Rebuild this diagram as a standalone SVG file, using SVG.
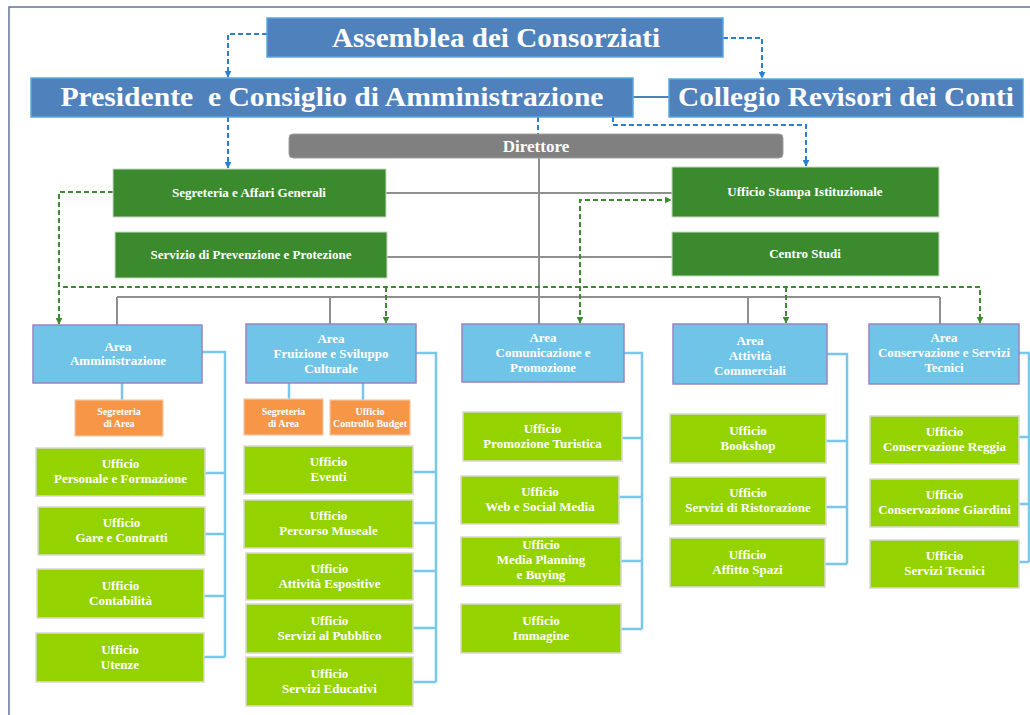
<svg xmlns="http://www.w3.org/2000/svg" width="1030" height="715" viewBox="0 0 1030 715">
<defs>
<style>
text{font-family:"Liberation Serif","Times New Roman",serif;font-weight:bold;fill:#fff;text-anchor:middle}
.title{font-size:28px}
.tbox{fill:#4f81bd;stroke:#58a6e0;stroke-width:1.5}
.dir{fill:#808080;stroke:#a0a0a0;stroke-width:1}
.dg{fill:#3b8a2e;stroke:#c9d9c5;stroke-width:1}
.dgt{font-size:13px}
.area{fill:#70c4e8;stroke:#9c83c2;stroke-width:1.5}
.at{font-size:13px}
.or{fill:#f79646;stroke:#f2c8a8;stroke-width:1.2}
.ot{font-size:10px}
.uf{fill:#94d300;stroke:#ddd6d6;stroke-width:1.5}
.ut{font-size:13px}
.grey{fill:none;stroke:#8f8f8f;stroke-width:2}
.br{fill:none;stroke:#78c8ec;stroke-width:2.5}
.bd{fill:none;stroke:#2a7fd4;stroke-width:2;stroke-dasharray:5 3}
.gd{fill:none;stroke:#3d8b2f;stroke-width:2;stroke-dasharray:5 3}
</style>
<marker id="ab" viewBox="0 0 10 10" refX="9" refY="5" markerWidth="7" markerHeight="7" markerUnits="userSpaceOnUse" orient="auto-start-reverse"><path d="M0,0 L10,5 L0,10 z" fill="#2a7fd4"/></marker>
<marker id="ag" viewBox="0 0 10 10" refX="9" refY="5" markerWidth="7" markerHeight="7" markerUnits="userSpaceOnUse" orient="auto-start-reverse"><path d="M0,0 L10,5 L0,10 z" fill="#3d8b2f"/></marker>
</defs>
<rect width="1030" height="715" fill="#fff"/>
<path d="M9,715 V7 H1030" fill="none" stroke="#64729a" stroke-width="1.5"/>

<g id="connectors">
<path class="grey" d="M539,158 V324 M117,297 H940 M117,297 V325 M330,297 V324 M748,297 V324 M940,297 V324 M386,193 H672 M387,257 H672"/>
<path class="br" d="M202,352 H225 V657 M205,473 H225 M205,534 H225 M204,596 H225 M204,657 H225"/>
<path class="br" d="M122,383 V400 M289,383 V399 M363,383 V400"/>
<path class="br" d="M416,353 H436 V682 M413,472 H436 M413,523 H436 M413,571 H436 M413,628 H436 M413,682 H436"/>
<path class="br" d="M624,353 H642 V629 M622,438 H642 M619,497 H642 M621,561 H642 M621,629 H642"/>
<path class="br" d="M827,354 H847 V564 M826,441 H847 M826,507 H847 M825,564 H847"/>
<path class="br" d="M1019,353 H1029 V562 M1019,437 H1029 M1019,504 H1029 M1019,562 H1029"/>
<path d="M633,97 H669" stroke="#4f81bd" stroke-width="2" fill="none"/>
<path class="bd" d="M267,34 H228 V77" marker-end="url(#ab)"/>
<path class="bd" d="M723,38 H762 V78" marker-end="url(#ab)"/>
<path class="bd" d="M228,117 V168" marker-end="url(#ab)"/>
<path class="bd" d="M538,117 V134"/>
<path class="bd" d="M613,117 V125 H806 V166" marker-end="url(#ab)"/>
<path class="gd" d="M113,192 H59 V324" marker-end="url(#ag)"/>
<path class="gd" d="M63,287 H980 V323" marker-end="url(#ag)"/>
<path class="gd" d="M386,287 V323" marker-end="url(#ag)"/>
<path class="gd" d="M786,287 V323" marker-end="url(#ag)"/>
<path class="gd" d="M580,323 V200 H671" marker-start="url(#ag)" marker-end="url(#ag)"/>
</g>

<g id="assemblea"><rect class="tbox" x="267" y="18" width="456" height="39"/><text class="title" x="496" y="47" textLength="328" lengthAdjust="spacingAndGlyphs">Assemblea dei Consorziati</text></g>
<g id="presidente"><rect class="tbox" x="31" y="78" width="602" height="39"/><text class="title" x="332" y="106" xml:space="preserve" textLength="543" lengthAdjust="spacingAndGlyphs">Presidente  e Consiglio di Amministrazione</text></g>
<g id="collegio"><rect class="tbox" x="669" y="79" width="354" height="38"/><text class="title" x="846" y="106" textLength="336" lengthAdjust="spacingAndGlyphs">Collegio Revisori dei Conti</text></g>
<g id="direttore"><rect class="dir" x="289" y="134" width="494" height="24" rx="4"/><text x="536" y="152" font-size="17">Direttore</text></g>

<g id="segreteria-ag"><rect class="dg" x="113" y="169" width="273" height="48"/><text class="dgt" x="249" y="197">Segreteria e Affari Generali</text></g>
<g id="servizio-pp"><rect class="dg" x="115" y="232" width="272" height="46"/><text class="dgt" x="251" y="259">Servizio di Prevenzione e Protezione</text></g>
<g id="ufficio-stampa"><rect class="dg" x="672" y="167" width="267" height="50"/><text class="dgt" x="805" y="196">Ufficio Stampa Istituzionale</text></g>
<g id="centro-studi"><rect class="dg" x="672" y="232" width="267" height="44"/><text class="dgt" x="805" y="258">Centro Studi</text></g>

<g id="area-amministrazione"><rect class="area" x="33" y="325" width="169" height="58"/><text class="at" x="118" y="351">Area</text><text class="at" x="118" y="365">Amministrazione</text></g>
<g id="area-fruizione"><rect class="area" x="246" y="324" width="170" height="59"/><text class="at" x="331" y="343">Area</text><text class="at" x="331" y="358">Fruizione e Sviluppo</text><text class="at" x="331" y="373">Culturale</text></g>
<g id="area-comunicazione"><rect class="area" x="462" y="324" width="162" height="58"/><text class="at" x="543" y="342">Area</text><text class="at" x="543" y="357">Comunicazione e</text><text class="at" x="543" y="372">Promozione</text></g>
<g id="area-attivita"><rect class="area" x="673" y="324" width="154" height="60"/><text class="at" x="750" y="345">Area</text><text class="at" x="750" y="360">Attività</text><text class="at" x="750" y="375">Commerciali</text></g>
<g id="area-conservazione"><rect class="area" x="869" y="324" width="150" height="60"/><text class="at" x="944" y="342">Area</text><text class="at" x="944" y="357">Conservazione e Servizi</text><text class="at" x="944" y="372">Tecnici</text></g>

<g id="segreteria-area-1"><rect class="or" x="75" y="400" width="88" height="36"/><text class="ot" x="119" y="415">Segreteria</text><text class="ot" x="119" y="427">di Area</text></g>
<g id="segreteria-area-2"><rect class="or" x="244" y="399" width="79" height="36"/><text class="ot" x="283.5" y="415">Segreteria</text><text class="ot" x="283.5" y="427">di Area</text></g>
<g id="controllo-budget"><rect class="or" x="330" y="400" width="80" height="35"/><text class="ot" x="370" y="415">Ufficio</text><text class="ot" x="370" y="427">Controllo Budget</text></g>

<g id="uff-personale"><rect class="uf" x="36" y="448" width="169" height="48"/><text class="ut" x="120.5" y="468">Ufficio</text><text class="ut" x="120.5" y="483">Personale e Formazione</text></g>
<g id="uff-gare"><rect class="uf" x="38" y="507" width="167" height="48"/><text class="ut" x="121.5" y="527">Ufficio</text><text class="ut" x="121.5" y="542">Gare e Contratti</text></g>
<g id="uff-contabilita"><rect class="uf" x="37" y="569" width="167" height="49"/><text class="ut" x="120.5" y="589.5">Ufficio</text><text class="ut" x="120.5" y="604.5">Contabilità</text></g>
<g id="uff-utenze"><rect class="uf" x="36" y="633" width="168" height="49"/><text class="ut" x="120" y="653.5">Ufficio</text><text class="ut" x="120" y="668.5">Utenze</text></g>

<g id="uff-eventi"><rect class="uf" x="244" y="446" width="169" height="48"/><text class="ut" x="328.5" y="466">Ufficio</text><text class="ut" x="328.5" y="481">Eventi</text></g>
<g id="uff-percorso"><rect class="uf" x="244" y="500" width="169" height="48"/><text class="ut" x="328.5" y="520">Ufficio</text><text class="ut" x="328.5" y="535">Percorso Museale</text></g>
<g id="uff-espositive"><rect class="uf" x="246" y="553" width="167" height="47"/><text class="ut" x="329.5" y="572.5">Ufficio</text><text class="ut" x="329.5" y="587.5">Attività Espositive</text></g>
<g id="uff-pubblico"><rect class="uf" x="246" y="604" width="167" height="49"/><text class="ut" x="329.5" y="624.5">Ufficio</text><text class="ut" x="329.5" y="639.5">Servizi al Pubblico</text></g>
<g id="uff-educativi"><rect class="uf" x="246" y="657" width="167" height="49"/><text class="ut" x="329.5" y="677.5">Ufficio</text><text class="ut" x="329.5" y="692.5">Servizi Educativi</text></g>

<g id="uff-promozione"><rect class="uf" x="463" y="412" width="159" height="49"/><text class="ut" x="542.5" y="433">Ufficio</text><text class="ut" x="542.5" y="448">Promozione Turistica</text></g>
<g id="uff-web"><rect class="uf" x="461" y="476" width="158" height="48"/><text class="ut" x="540" y="496">Ufficio</text><text class="ut" x="540" y="511">Web e Social Media</text></g>
<g id="uff-media"><rect class="uf" x="461" y="537" width="160" height="49"/><text class="ut" x="541" y="549">Ufficio</text><text class="ut" x="541" y="564">Media Planning</text><text class="ut" x="541" y="579">e Buying</text></g>
<g id="uff-immagine"><rect class="uf" x="461" y="604" width="160" height="49"/><text class="ut" x="541" y="624.5">Ufficio</text><text class="ut" x="541" y="639.5">Immagine</text></g>

<g id="uff-bookshop"><rect class="uf" x="670" y="414" width="156" height="49"/><text class="ut" x="748" y="434.5">Ufficio</text><text class="ut" x="748" y="449.5">Bookshop</text></g>
<g id="uff-ristorazione"><rect class="uf" x="670" y="477" width="156" height="48"/><text class="ut" x="748" y="497">Ufficio</text><text class="ut" x="748" y="512">Servizi di Ristorazione</text></g>
<g id="uff-affitto"><rect class="uf" x="670" y="538" width="155" height="49"/><text class="ut" x="747.5" y="558.5">Ufficio</text><text class="ut" x="747.5" y="573.5">Affitto Spazi</text></g>

<g id="uff-reggia"><rect class="uf" x="870" y="416" width="149" height="48"/><text class="ut" x="944.5" y="436">Ufficio</text><text class="ut" x="944.5" y="451">Conservazione Reggia</text></g>
<g id="uff-giardini"><rect class="uf" x="870" y="479" width="149" height="48"/><text class="ut" x="944.5" y="499">Ufficio</text><text class="ut" x="944.5" y="514">Conservazione Giardini</text></g>
<g id="uff-tecnici"><rect class="uf" x="870" y="540" width="149" height="48"/><text class="ut" x="944.5" y="560">Ufficio</text><text class="ut" x="944.5" y="575">Servizi Tecnici</text></g>
</svg>
